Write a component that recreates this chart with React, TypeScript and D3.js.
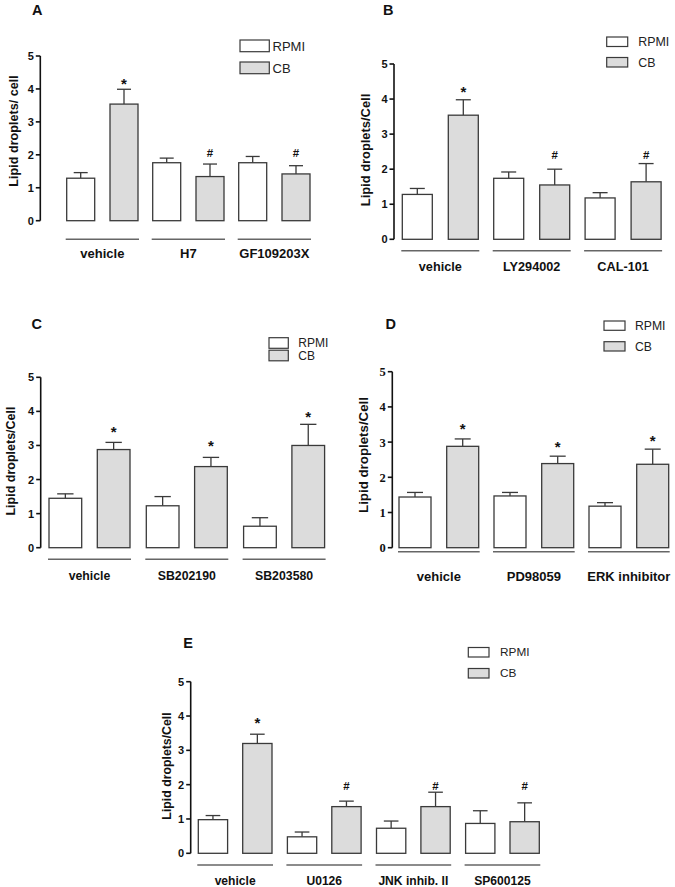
import React from "react";
import * as d3 from "d3";

// ---------- data ----------
const seriesNames = ["RPMI", "CB"];
const yTicks = [0, 1, 2, 3, 4, 5];

const catsA = ["vehicle", "H7", "GF109203X"];
const rpmiA = [1.29, 1.76, 1.76];
const rpmiErrA = [0.17, 0.14, 0.19];
const cbA = [3.54, 1.34, 1.42];
const cbErrA = [0.45, 0.38, 0.25];
const marksA = ["*", "#", "#"];
const markAtA = [4.27, 2.06, 2.06];

const catsB = ["vehicle", "LY294002", "CAL-101"];
const rpmiB = [1.28, 1.74, 1.18];
const rpmiErrB = [0.17, 0.18, 0.15];
const cbB = [3.54, 1.55, 1.64];
const cbErrB = [0.44, 0.45, 0.52];
const marksB = ["*", "#", "#"];
const markAtB = [4.31, 2.4, 2.4];

const catsC = ["vehicle", "SB202190", "SB203580"];
const rpmiC = [1.45, 1.23, 0.63];
const rpmiErrC = [0.13, 0.27, 0.25];
const cbC = [2.88, 2.38, 3.0];
const cbErrC = [0.21, 0.27, 0.62];
const marksC = ["*", "*", "*"];
const markAtC = [3.53, 3.11, 3.97];

const catsD = ["vehicle", "PD98059", "ERK inhibitor"];
const rpmiD = [1.44, 1.47, 1.18];
const rpmiErrD = [0.13, 0.1, 0.1];
const cbD = [2.88, 2.39, 2.37];
const cbErrD = [0.21, 0.21, 0.43];
const marksD = ["*", "*", "*"];
const markAtD = [3.49, 2.99, 3.15];

const catsE = ["vehicle", "U0126", "JNK inhib. II", "SP600125"];
const rpmiE = [0.98, 0.48, 0.73, 0.87];
const rpmiErrE = [0.12, 0.14, 0.21, 0.37];
const cbE = [3.2, 1.36, 1.36, 0.92];
const cbErrE = [0.27, 0.16, 0.42, 0.55];
const marksE = ["*", "#", "#", "#"];
const markAtE = [3.93, 1.96, 1.96, 1.96];

// ---------- layout ----------
const SANS = "'Liberation Sans', Arial, Helvetica, sans-serif";
const SERIF = "'Liberation Serif', 'Times New Roman', serif";
const FILL_CB = "#dcdcdc";
const STROKE = "#3a3a3a";

type Layout = {
  letter: string; letterX: number; letterY: number;
  axisX: number; y0: number; y5: number;
  x0: number; step: number; cbOff: number; barW: number;
  lineY: number; labelY: number; labelSize: number;
  tickFont: string; tickSize: number;
  ylabText: string; ylabX: number; ylabY: number; ylabSize: number;
  legX: number; legW: number; legH: number; legY1: number; legY2: number;
  legTextX: number; legSize: number;
};

const layoutA: Layout = {
  letter: "A", letterX: 32, letterY: 15,
  axisX: 40.3, y0: 220.7, y5: 56, x0: 66.7, step: 86, cbOff: 43.3, barW: 28,
  lineY: 239.3, labelY: 257.5, labelSize: 13,
  tickFont: SANS, tickSize: 11,
  ylabText: "Lipid droplets/ cell", ylabX: 13, ylabY: 131, ylabSize: 12.6,
  legX: 240, legW: 29.3, legH: 11.7, legY1: 40, legY2: 62, legTextX: 272.5, legSize: 13,
};
const layoutB: Layout = {
  letter: "B", letterX: 383, letterY: 15,
  axisX: 394, y0: 239.3, y5: 64, x0: 402.3, step: 91.4, cbOff: 46, barW: 30,
  lineY: 250.7, labelY: 271, labelSize: 12.7,
  tickFont: SANS, tickSize: 11,
  ylabText: "Lipid droplets/Cell", ylabX: 365, ylabY: 150, ylabSize: 12.9,
  legX: 606.7, legW: 21, legH: 9.5, legY1: 37, legY2: 57.5, legTextX: 638.3, legSize: 12.4,
};
const layoutC: Layout = {
  letter: "C", letterX: 31.5, letterY: 329,
  axisX: 40.7, y0: 547.7, y5: 377.3, x0: 49, step: 97.3, cbOff: 48.3, barW: 32.7,
  lineY: 559.3, labelY: 579.5, labelSize: 12.3,
  tickFont: SANS, tickSize: 11,
  ylabText: "Lipid droplets/Cell", ylabX: 10, ylabY: 461, ylabSize: 12.5,
  legX: 269, legW: 19.3, legH: 10.6, legY1: 337.7, legY2: 350.2, legTextX: 298.3, legSize: 12,
};
const layoutD: Layout = {
  letter: "D", letterX: 385.5, letterY: 329,
  axisX: 392.3, y0: 547.7, y5: 371.7, x0: 399, step: 95, cbOff: 47.7, barW: 32,
  lineY: 551.7, labelY: 580.5, labelSize: 13,
  tickFont: SERIF, tickSize: 12.5,
  ylabText: "Lipid droplets/Cell", ylabX: 363.3, ylabY: 455, ylabSize: 13.3,
  legX: 604, legW: 21, legH: 9.3, legY1: 321, legY2: 341.7, legTextX: 635, legSize: 12.2,
};
const layoutE: Layout = {
  letter: "E", letterX: 183.3, letterY: 648.3,
  axisX: 190.7, y0: 853.3, y5: 681.7, x0: 198.3, step: 89.1, cbOff: 44.4, barW: 29.3,
  lineY: 865, labelY: 884.5, labelSize: 12.1,
  tickFont: SANS, tickSize: 11,
  ylabText: "Lipid droplets/Cell", ylabX: 166.7, ylabY: 766, ylabSize: 12.3,
  legX: 468.3, legW: 20.7, legH: 9.5, legY1: 647.5, legY2: 668.5, legTextX: 500, legSize: 11.8,
};

type PanelData = {
  cats: string[]; rpmi: number[]; rpmiErr: number[]; cb: number[]; cbErr: number[];
  marks: string[]; markAt: number[];
};

function Panel({ L, D }: { L: Layout; D: PanelData }) {
  const y = d3.scaleLinear().domain([0, 5]).range([L.y0, L.y5]);
  const gx = d3.scaleLinear().domain([0, 1]).range([L.x0, L.x0 + L.step]);
  const series = [
    { vals: D.rpmi, errs: D.rpmiErr, fill: "#ffffff", off: 0 },
    { vals: D.cb, errs: D.cbErr, fill: FILL_CB, off: L.cbOff },
  ];
  const legendY = [L.legY1, L.legY2];
  const legendFill = ["#ffffff", FILL_CB];
  return (
    <g>
      <text x={L.letterX} y={L.letterY} fontFamily={SANS} fontWeight="bold" fontSize={14.5} fill="#111">
        {L.letter}
      </text>
      {/* legend */}
      {seriesNames.map((n, i) => (
        <g key={n}>
          <rect x={L.legX} y={legendY[i]} width={L.legW} height={L.legH}
            fill={legendFill[i]} stroke={STROKE} strokeWidth={1.2} />
          <text x={L.legTextX} y={legendY[i] + L.legH / 2} dy="0.36em" fontFamily={SANS}
            fontSize={L.legSize} fill="#222">
            {n}
          </text>
        </g>
      ))}
      {/* y axis */}
      <line x1={L.axisX} x2={L.axisX} y1={y(0)} y2={y(5)} stroke="#111" strokeWidth={1.6} />
      {yTicks.map((t) => (
        <g key={t}>
          <line x1={L.axisX - 4.5} x2={L.axisX} y1={y(t)} y2={y(t)} stroke="#111" strokeWidth={1.6} />
          <text x={L.axisX - 6.5} y={y(t)} dy="0.36em" textAnchor="end" fontFamily={L.tickFont}
            fontWeight="bold" fontSize={L.tickSize} fill="#111">
            {t}
          </text>
        </g>
      ))}
      <text transform={`translate(${L.ylabX},${L.ylabY}) rotate(-90)`} textAnchor="middle" dy="0.36em"
        fontFamily={SANS} fontWeight="bold" fontSize={L.ylabSize} fill="#111">
        {L.ylabText}
      </text>
      {/* bars */}
      {D.cats.map((c, gi) => (
        <g key={c}>
          {series.map((s, si) => {
            const bx = gx(gi) + s.off;
            const top = y(s.vals[gi]);
            const et = y(s.vals[gi] + s.errs[gi]);
            const cx = bx + L.barW / 2;
            return (
              <g key={si}>
                <line x1={cx} x2={cx} y1={top} y2={et} stroke={STROKE} strokeWidth={1.3} />
                <line x1={cx - L.barW / 4} x2={cx + L.barW / 4} y1={et} y2={et} stroke={STROKE} strokeWidth={1.3} />
                <rect x={bx} y={top} width={L.barW} height={y(0) - top} fill={s.fill}
                  stroke={STROKE} strokeWidth={1.3} />
              </g>
            );
          })}
          <text x={gx(gi) + L.cbOff + L.barW / 2} y={y(D.markAt[gi])}
            dy={D.marks[gi] === "*" ? "0.62em" : "0.36em"} textAnchor="middle" fontFamily={SANS}
            fontWeight="bold" fontSize={D.marks[gi] === "*" ? 15 : 11.5} fill="#111">
            {D.marks[gi]}
          </text>
          <line x1={gx(gi) - 1} x2={gx(gi) + L.cbOff + L.barW + 1} y1={L.lineY} y2={L.lineY}
            stroke="#666" strokeWidth={1.4} />
          <text x={gx(gi) + (L.cbOff + L.barW) / 2} y={L.labelY} textAnchor="middle" fontFamily={SANS}
            fontWeight="bold" fontSize={L.labelSize} fill="#111">
            {c}
          </text>
        </g>
      ))}
    </g>
  );
}

export default function App() {
  return (
    <svg width={675} height={887} viewBox="0 0 675 887"
      style={{ position: "absolute", left: 0, top: 0, background: "#fff" }}>
      <rect x={0} y={0} width={675} height={887} fill="#fff" />
      <Panel L={layoutA} D={{ cats: catsA, rpmi: rpmiA, rpmiErr: rpmiErrA, cb: cbA, cbErr: cbErrA, marks: marksA, markAt: markAtA }} />
      <Panel L={layoutB} D={{ cats: catsB, rpmi: rpmiB, rpmiErr: rpmiErrB, cb: cbB, cbErr: cbErrB, marks: marksB, markAt: markAtB }} />
      <Panel L={layoutC} D={{ cats: catsC, rpmi: rpmiC, rpmiErr: rpmiErrC, cb: cbC, cbErr: cbErrC, marks: marksC, markAt: markAtC }} />
      <Panel L={layoutD} D={{ cats: catsD, rpmi: rpmiD, rpmiErr: rpmiErrD, cb: cbD, cbErr: cbErrD, marks: marksD, markAt: markAtD }} />
      <Panel L={layoutE} D={{ cats: catsE, rpmi: rpmiE, rpmiErr: rpmiErrE, cb: cbE, cbErr: cbErrE, marks: marksE, markAt: markAtE }} />
    </svg>
  );
}
